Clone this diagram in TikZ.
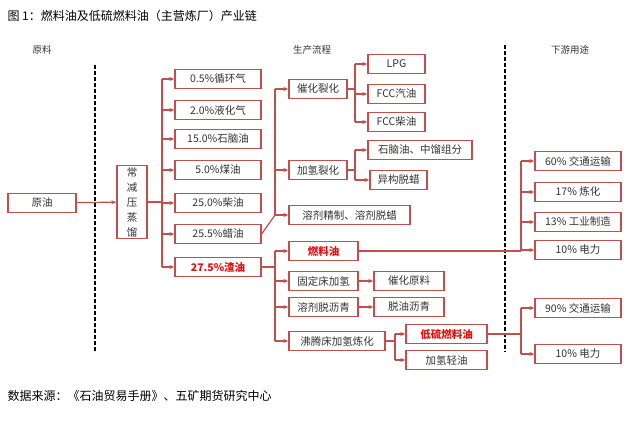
\documentclass[tikz,border=0pt]{standalone}
\usepackage{fontspec}
\setmainfont{Noto Sans CJK SC}
\usetikzlibrary{arrows.meta}
\definecolor{bd}{HTML}{C0504D}
\definecolor{rt}{HTML}{E01010}
\begin{document}
\begin{tikzpicture}[x=1pt,y=-1pt,
 b/.style={draw=bd,line width=1.3pt,minimum height=19pt,inner sep=1pt,font=\fontsize{10.5}{11}\selectfont,text=black!80},
 r/.style={b,text=rt,font=\fontsize{10.5}{11}\selectfont\bfseries},
 ln/.style={draw=bd,line width=1.2pt},
 ar/.style={ln,-{Stealth[length=5pt,width=4pt]}},
 hd/.style={font=\fontsize{9.5}{10}\selectfont,text=black!80},
 dsh/.style={line width=1.6pt,dash pattern=on 4pt off 2pt}]
\useasboundingbox (0,0) rectangle (640,422);
\node[anchor=west,font=\fontsize{12}{13}\selectfont] (t) at (4,16) {图 1：燃料油及低硫燃料油（主营炼厂）产业链};
\node[anchor=west,font=\fontsize{12}{13}\selectfont] (s) at (4,396) {数据来源：《石油贸易手册》、五矿期货研究中心};
\node[hd] (h1) at (42,50) {原料};
\node[hd] (h2) at (312,50) {生产流程};
\node[hd] (h3) at (570,50) {下游用途};
\coordinate (d1a) at (95,65); \coordinate (d1b) at (95,352);
\coordinate (d2a) at (505,45); \coordinate (d2b) at (505,352);
\draw[dsh] (d1a)--(d1b); \draw[dsh] (d2a)--(d2b);
\node[b,minimum width=68pt] (yy) at (42,203) {原油};
\node[b,minimum width=30pt,minimum height=73pt,align=center,font=\fontsize{10.5}{15}\selectfont] (cj) at (132,202) {常\\减\\压\\蒸\\馏};
\foreach \n/\y/\t in {c1/79/0.5\%循环气,c2/110/2.0\%液化气,c3/139/15.0\%石脑油,c4/170/5.0\%煤油,c5/203/25.0\%柴油,c6/234/25.5\%蜡油}
  \node[b,minimum width=86pt] (\n) at (218,\y) {\t};
\node[r,minimum width=86pt] (c7) at (218,267) {27.5\%渣油};
\draw[ar] (yy)--(cj);
\coordinate (k0) at (162,202);
\draw[ln] (cj.east)--(k0);
\coordinate (k1) at (162,79); \coordinate (k7) at (162,267);
\draw[ln] (k1)--(k7);
\foreach \n in {c1,c2,c3,c4,c5,c6,c7} \draw[ar] (k1|-\n.west)--(\n.west);
% level 2
\node[b,minimum width=58pt] (p1) at (318,89) {催化裂化};
\node[b,minimum width=58pt] (p2) at (318,170) {加氢裂化};
\node[b,minimum width=121pt] (p3) at (349.5,215) {溶剂精制、溶剂脱蜡};
\coordinate (m1) at (275,89); \coordinate (m3) at (275,215);
\draw[ln] (m1)--(m3);
\draw[ln] (c6.east)--(m3);
\foreach \n in {p1,p2,p3} \draw[ar] (m1|-\n.west)--(\n.west);
\node[r,minimum width=69pt] (q1) at (323.5,251) {燃料油};
\node[b,minimum width=69pt] (q2) at (323.5,281) {固定床加氢};
\node[b,minimum width=69pt] (q3) at (323.5,307) {溶剂脱沥青};
\node[b,minimum width=96pt] (q4) at (337,341) {沸腾床加氢炼化};
\coordinate (n1) at (275,251); \coordinate (n4) at (275,341);
\draw[ln] (n1)--(n4);
\draw[ln] (c7.east)--(n1|-c7.east);
\foreach \n in {q1,q2,q3,q4} \draw[ar] (n1|-\n.west)--(\n.west);
% level 3
\node[b,minimum width=57pt] (l1) at (396.5,64) {LPG};
\node[b,minimum width=57pt] (l2) at (396.5,94) {FCC汽油};
\node[b,minimum width=57pt] (l3) at (396.5,122) {FCC柴油};
\coordinate (o1) at (355,64); \coordinate (o3) at (355,122);
\draw[ln] (o1)--(o3); \draw[ln] (p1.east)--(o1|-p1.east);
\foreach \n in {l1,l2,l3} \draw[ar] (o1|-\n.west)--(\n.west);
\node[b,minimum width=104pt] (l4) at (420,150) {石脑油、中馏组分};
\node[b,minimum width=57pt] (l5) at (398.5,180) {异构脱蜡};
\coordinate (o4) at (355,150); \coordinate (o5) at (355,180);
\draw[ln] (o4)--(o5); \draw[ln] (p2.east)--(o4|-p2.east);
\foreach \n in {l4,l5} \draw[ar] (o4|-\n.west)--(\n.west);
\node[b,minimum width=70pt] (l6) at (409,281) {催化原料};
\node[b,minimum width=70pt] (l7) at (409,307) {脱油沥青};
\draw[ar] (q2)--(l6); \draw[ar] (q3)--(l7);
\node[r,minimum width=81pt] (l8) at (446.5,334) {低硫燃料油};
\node[b,minimum width=81pt] (l9) at (446.5,360) {加氢轻油};
\coordinate (o8) at (395,334); \coordinate (o9) at (395,360);
\draw[ln] (o8)--(o9); \draw[ln] (q4.east)--(o8|-q4.east);
\foreach \n in {l8,l9} \draw[ar] (o8|-\n.west)--(\n.west);
% downstream
\foreach \n/\y/\t in {u1/161/60\% 交通运输,u2/192/17\% 炼化,u3/222/13\% 工业制造,u4/250/10\% 电力,u5/308/90\% 交通运输,u6/354/10\% 电力}
  \node[b,minimum width=86pt] (\n) at (578,\y) {\t};
\coordinate (w1) at (521,161); \coordinate (w4) at (521,250);
\draw[ln] (w1)--(w4); \draw[ln] (q1.east)--(w4|-q1.east);
\foreach \n in {u1,u2,u3,u4} \draw[ar] (w1|-\n.west)--(\n.west);
\coordinate (w5) at (521,308); \coordinate (w6) at (521,354);
\draw[ln] (w5)--(w6); \draw[ln] (l8.east)--(w5|-l8.east);
\foreach \n in {u5,u6} \draw[ar] (w5|-\n.west)--(\n.west);
\end{tikzpicture}
\end{document}
